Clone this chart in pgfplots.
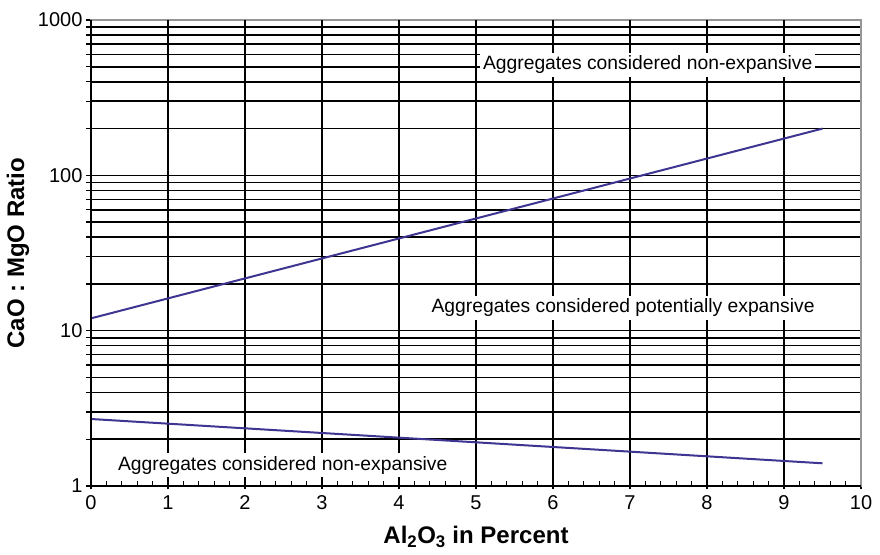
\documentclass[border=0pt]{standalone}
\usepackage{fontspec}
\setmainfont{Liberation Sans}
\usepackage{pgfplots}
\pgfplotsset{compat=1.18}
\definecolor{lineblue}{RGB}{62,52,145}
\definecolor{gridgray}{RGB}{150,150,150}
\begin{document}
\fontsize{19}{23}\selectfont
\begin{tikzpicture}
\begin{axis}[
  scale only axis, width=770pt, height=466pt,
  xmin=0, xmax=10, ymin=1, ymax=1000, ymode=log, log basis y=10,
  xtick={0,...,10}, minor x tick num=4,
  ytick={1,10,100,1000}, yticklabels={1,10,100,1000},
  minor ytick={2,3,...,9,20,30,...,90,200,300,...,900},
  xtick pos=left, ytick pos=left,
  tick align=inside,
  major tick length=6pt, minor tick length=5pt,
  y tick style={xshift=-5pt},
  major x tick style={yshift=-3pt},
  tick style={black, line width=1.3pt},
  ymajorgrids=true, yminorgrids=true,
  major grid style={black, line width=1.5pt},
  minor grid style={black, line width=1.5pt},
  extra x ticks={1,2,...,9}, extra x tick labels={},
  extra x tick style={grid=major, major grid style={black, line width=1.9pt}},
  axis line style={gridgray, line width=1.5pt},
  clip=false,
  /pgf/number format/assume math mode=true,
  ticklabel style={font=\fontsize{20}{24}\selectfont},
  xticklabel style={yshift=-3.5pt},
  yticklabel style={xshift=-2pt},
  xlabel={\textbf{Al\textsubscript{2}O\textsubscript{3} in Percent}},
  ylabel={\textbf{CaO : MgO Ratio}},
  xlabel style={font=\fontsize{24}{28}\selectfont, at={(axis description cs:0.5,-0.1094)}, anchor=center},
  ylabel style={font=\fontsize{24}{28}\selectfont, at={(axis description cs:-0.0948,0.5)}, anchor=center},
]
\addplot[lineblue, line width=2pt] coordinates {(0,12) (9.5,200)};
\addplot[lineblue, line width=2pt] coordinates {(0,2.7) (9.5,1.4)};
\node[fill=white, inner sep=3pt, font=\fontsize{19.3}{23}\selectfont] at (axis cs:7.23,514) {Aggregates considered non-expansive};
\node[fill=white, inner sep=3pt, font=\fontsize{19.3}{23}\selectfont] at (axis cs:6.91,14.0) {Aggregates considered potentially expansive};
\node[fill=white, inner sep=3pt, font=\fontsize{19.3}{23}\selectfont] at (axis cs:2.49,1.36) {Aggregates considered non-expansive};
\draw[black, line width=1.9pt] (rel axis cs:0,1) -- (rel axis cs:0,0) -- (rel axis cs:1,0);
\coordinate (SW) at (rel axis cs:0,0);
\coordinate (NE) at (rel axis cs:1,1);
\end{axis}
\path (SW) ++(-91pt,-68pt) coordinate (a);
\path (NE) ++(19pt,20pt) coordinate (b);
\pgfresetboundingbox
\path (a) rectangle (b);
\end{tikzpicture}
\end{document}
